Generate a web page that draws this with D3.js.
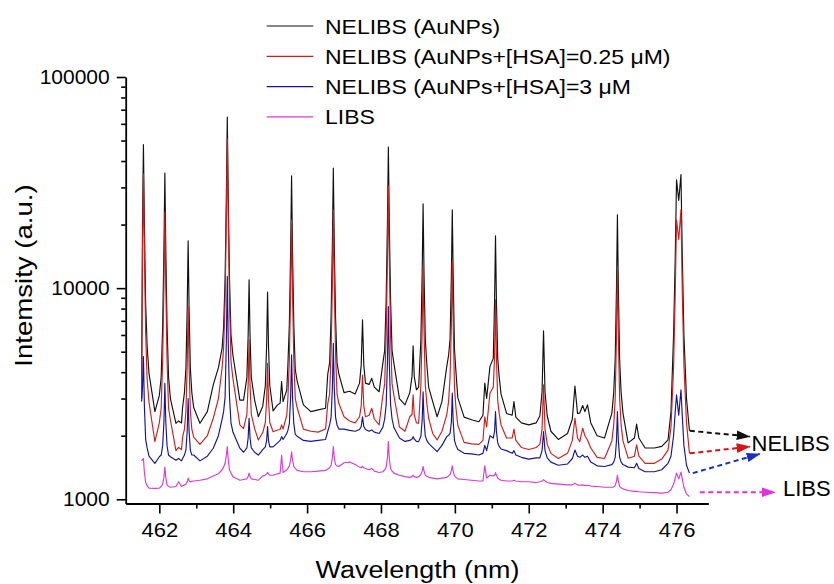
<!DOCTYPE html>
<html>
<head>
<meta charset="utf-8">
<script src="https://cdn.jsdelivr.net/npm/d3@7"></script>
<style>
  html, body { margin: 0; padding: 0; background: #ffffff; }
  svg { display: block; }
</style>
</head>
<body>
<svg id="chart" width="834" height="584"></svg>
<script>
// ---------------- DATA ----------------
const wavelength = [
461.52,461.545,461.57,461.595,461.63,461.67,461.72,461.88,
462.00,462.05,462.09,462.125,462.15,462.175,462.21,462.25,462.30,
462.45,462.52,462.60,
462.63,462.68,462.72,462.755,462.78,462.805,462.84,462.88,462.93,
463.10,463.30,463.46,463.60,463.70,
463.74,463.78,463.815,463.84,463.865,463.90,463.94,463.99,
464.18,
464.28,464.37,464.405,464.43,464.455,464.49,464.58,
464.68,
464.80,464.87,464.905,464.93,464.955,464.99,465.08,
465.20,465.27,465.31,465.35,
465.45,465.48,465.52,465.555,465.58,465.605,465.64,465.68,465.73,
465.90,466.10,466.30,466.50,
466.56,466.61,466.65,466.685,466.71,466.735,466.77,466.81,466.86,
467.00,467.15,467.30,
467.42,467.465,467.50,467.535,467.58,
467.68,467.75,467.82,467.95,
468.05,468.10,468.14,468.175,468.20,468.225,468.26,468.30,468.35,
468.50,468.65,
468.78,468.84,468.87,468.90,468.96,
469.02,
469.08,469.115,469.14,469.165,469.20,469.24,469.29,
469.40,469.52,469.65,469.78,
469.83,469.87,469.905,469.93,469.955,469.99,470.03,470.08,
470.25,470.45,470.65,470.76,470.81,470.86,470.95,
471.04,471.075,471.10,471.125,471.16,471.20,471.25,
471.40,471.55,471.60,471.65,471.80,472.00,472.20,
472.30,472.36,472.40,472.44,472.50,
472.60,472.80,473.05,
473.18,473.25,473.32,473.38,473.46,473.52,473.59,473.68,473.85,474.05,
474.25,474.30,474.34,474.375,474.40,474.425,474.46,474.50,474.55,
474.69,474.86,474.92,474.98,475.15,475.40,475.60,475.77,
475.85,475.92,475.965,476.00,476.06,476.12,476.155,476.20,476.27,476.35
];

const nelibsAuNPs = [
3000,20700,47800,20700,8480,5300,3960,2600,
3100,3780,6560,15420,35100,15420,6560,3780,3000,
2290,2350,2300,
2720,3200,4170,8070,16750,8070,4170,3200,2720,
2290,2600,3480,4200,5200,
6500,11000,27640,64600,27640,11000,6000,4850,
2950,
2950,3770,6000,10950,6000,3770,2950,
2460,
2760,3460,5360,9570,5360,3460,2620,
2800,2850,3610,2900,
3300,4300,6770,15220,34000,15220,6770,4110,3640,
2800,2600,2650,2700,
3920,4430,7330,16540,37000,16540,7330,4430,3920,
3200,3250,3150,
3550,4330,7070,4330,3550,
3500,3740,3400,3230,
4400,5060,8760,20500,46600,20500,8760,5060,4400,
3000,2800,
3200,3820,5330,3820,3300,
3400,
5700,11720,25100,11720,5700,4400,3400,
2900,2460,2900,4250,
4800,5730,11400,23500,11400,5130,4000,3030,
2450,2380,2330,2500,3550,3000,4260,
4650,8700,17700,8700,4650,3800,3150,
2550,2500,2900,2450,2300,2250,2300,
2480,3220,6280,3220,2480,
2100,1920,2050,
2400,3440,2550,2560,2780,2600,2800,2300,2000,1950,
2560,3200,4590,10070,22250,10070,4590,3200,2560,
1850,1950,2270,1950,1750,1750,1780,1910,
2600,6000,14000,32600,26000,34500,14500,6000,3000,2110
];

const nelibsHSA025 = [
3000,15060,34800,15060,6180,3710,2890,1875,
2300,2700,4500,10240,23000,10240,4500,2700,2380,
1700,1760,1720,
1970,2150,2610,4340,8180,4340,2610,2150,1970,
1820,2000,2420,3000,4200,
5200,8620,21740,50900,21740,8620,4500,3760,
2250,
2160,2525,3510,5700,3510,2525,2160,
1910,
2070,2310,2960,4400,2960,2310,2090,
2130,2140,2250,2150,
2500,3000,4610,9720,21080,9720,4610,3000,2720,
2150,2100,2080,2150,
2840,3160,4970,10720,23500,10720,4970,3160,2840,
2460,2350,2300,
2460,2770,3880,2770,2460,
2500,2700,2400,2250,
3100,3520,5920,13550,30500,13550,5920,3520,3100,
2200,2100,
2460,2520,3120,2520,2300,
2290,
3470,6320,12650,6320,3470,2850,2420,
2050,1910,2100,2510,
2900,3780,6650,13370,6650,3380,2700,2240,
1860,1830,1820,1900,2460,2200,3180,
3400,4750,8810,4750,2930,2550,2250,
1950,1950,2150,1900,1760,1720,1760,
1820,2150,3480,2150,1820,
1650,1560,1650,
1900,2420,1950,1875,2170,2000,1910,1750,1580,1560,
1890,2250,3000,6000,12650,6000,3000,2250,1890,
1565,1600,1810,1600,1480,1480,1550,1710,
2200,4200,9500,21000,17000,23500,9800,4300,2300,1650
];

const nelibsHSA3 = [
2900,3400,4740,2800,1920,1750,1600,1480,
1590,1620,1790,2330,3540,2330,1790,1620,1590,
1530,1560,1520,
1560,1620,1710,2110,3000,2110,1710,1620,1620,
1520,1600,1745,2000,2400,
2600,3040,5620,11360,5620,3040,2300,2090,
1745,
1670,1750,1960,2420,1960,1750,1670,
1620,
1720,1770,1900,2210,1900,1770,1770,
1850,1900,1980,1920,
2050,2120,2280,3070,4830,3070,2280,2030,1990,
1900,1880,1900,1920,
2100,2250,2450,3390,5480,3390,2450,2250,2150,
2150,2120,2100,
2140,2210,2460,2210,2140,
2100,2130,2080,2050,
2190,2400,2800,4470,8180,4470,2800,2400,2190,
1950,1880,
1900,1930,1980,1930,1880,
1875,
1990,2370,3230,2370,1990,1900,1840,
1760,1680,1800,1980,
2010,2050,2320,3180,2320,1900,1800,1720,
1650,1640,1620,1650,1800,1700,2000,
1950,2100,2600,2100,1850,1780,1730,
1700,1650,1700,1620,1580,1550,1570,
1570,1700,2090,1700,1570,
1500,1450,1470,
1560,1710,1600,1580,1620,1580,1600,1500,1440,1430,
1460,1500,1580,1900,2600,1900,1580,1500,1460,
1420,1410,1480,1400,1350,1350,1380,1480,
1600,2000,2600,3120,2500,3300,2500,1800,1450,1330
];

const libs = [
1520,1540,1560,1350,1200,1160,1130,1127,
1130,1150,1180,1270,1420,1270,1170,1150,1140,
1150,1210,1150,
1160,1170,1180,1210,1260,1230,1210,1215,1220,
1230,1250,1290,1320,1380,
1420,1480,1620,1775,1550,1380,1330,1280,
1230,
1240,1250,1280,1330,1280,1250,1240,
1230,
1290,1300,1320,1340,1320,1300,1300,
1320,1330,1620,1340,
1380,1400,1440,1540,1680,1540,1430,1400,1370,
1350,1350,1360,1370,
1390,1410,1450,1580,1775,1580,1460,1440,1430,
1490,1500,1460,
1420,1410,1430,1410,1400,
1380,1400,1360,1340,
1350,1380,1420,1580,1875,1560,1400,1360,1330,
1300,1280,
1270,1280,1300,1280,1270,
1280,
1310,1360,1430,1360,1300,1285,1270,
1260,1250,1260,1270,
1290,1310,1370,1440,1360,1290,1270,1250,
1240,1230,1220,1220,1440,1260,1300,
1290,1300,1337,1300,1260,1245,1230,
1220,1220,1230,1220,1210,1210,1200,
1210,1220,1240,1220,1200,
1190,1180,1170,
1170,1190,1170,1165,1170,1160,1165,1155,1150,1140,
1140,1145,1160,1220,1300,1220,1150,1135,1120,
1100,1090,1090,1085,1080,1075,1070,1080,
1110,1180,1260,1330,1250,1345,1250,1140,1060,1030
];

const seriesNames = [
  "NELIBS (AuNPs)",
  "NELIBS (AuNPs+[HSA]=0.25 \u03bcM)",
  "NELIBS (AuNPs+[HSA]=3 \u03bcM",
  "LIBS"
];
const seriesColors = ["#111111", "#cc1f1f", "#14149a", "#d93bd9"];

const xTickValues = [462, 464, 466, 468, 470, 472, 474, 476];
const xMinorTickValues = [463, 465, 467, 469, 471, 473, 475];
const yTickValues = [1000, 10000, 100000];
const yMinorTickValues = [2000,3000,4000,5000,6000,7000,8000,9000,
                         20000,30000,40000,50000,60000,70000,80000,90000];
const xDomain = [461.09, 476.86];
const yDomain = [955, 100000];

// annotation arrows (data coordinates: [wavelength, intensity])
const arrowFrom = [[476.36, 2110], [476.36, 1650], [476.44, 1330], [476.63, 1079]];
const arrowTo   = [[477.98, 1982], [477.98, 1775], [478.25, 1640], [478.66, 1079]];
const arrowColors = ["#111111", "#e01010", "#1530c8", "#e030e0"];
const annotationLabels = ["NELIBS", "LIBS"];
const annotationPos = [[478.03, 1694], [478.88, 1040]];

// ---------------- DRAWING ----------------
const svg = d3.select("#chart");
const FONT = "'Liberation Sans', Arial, Helvetica, sans-serif";

svg.append("rect").attr("width", 834).attr("height", 584).attr("fill", "#ffffff");

const x = d3.scaleLinear().domain(xDomain).range([125.7, 708.3]);
const y = d3.scaleLog().domain(yDomain).range([503.5, 77]);

// series lines
const series = [nelibsAuNPs, nelibsHSA025, nelibsHSA3, libs];
const line = d3.line()
  .defined((d, i) => i < wavelength.length && d != null)
  .x((d, i) => x(wavelength[i]))
  .y(d => y(d));

const linesG = svg.append("g");
series.forEach((vals, k) => {
  linesG.append("path")
    .datum(vals)
    .attr("d", line)
    .attr("fill", "none")
    .attr("stroke", seriesColors[k])
    .attr("stroke-width", 1.15)
    .attr("stroke-linejoin", "round");
});

// axes
const xAxisG = svg.append("g").attr("transform", `translate(0,${y.range()[0]})`);
xAxisG.call(d3.axisBottom(x).tickValues(xTickValues).tickFormat(d3.format("d"))
  .tickSize(10).tickPadding(9.5).tickSizeOuter(0));
const xMinorG = svg.append("g").attr("transform", `translate(0,${y.range()[0]})`);
xMinorG.call(d3.axisBottom(x).tickValues(xMinorTickValues).tickFormat("")
  .tickSize(5).tickSizeOuter(0));
xMinorG.select(".domain").remove();

const yAxisG = svg.append("g").attr("transform", `translate(${x.range()[0]},0)`);
yAxisG.call(d3.axisLeft(y).tickValues(yTickValues).tickFormat(d3.format("d"))
  .tickSize(9).tickPadding(7).tickSizeOuter(0));
const yMinorG = svg.append("g").attr("transform", `translate(${x.range()[0]},0)`);
yMinorG.call(d3.axisLeft(y).tickValues(yMinorTickValues).tickFormat("")
  .tickSize(4.5).tickSizeOuter(0));
yMinorG.select(".domain").remove();

[xAxisG, xMinorG, yAxisG, yMinorG].forEach(g => {
  g.selectAll(".domain").attr("stroke", "#000").attr("stroke-width", 1.8);
  g.selectAll(".tick line").attr("stroke", "#000").attr("stroke-width", 1.6);
});
xAxisG.selectAll(".tick text")
  .attr("font-family", FONT).attr("font-size", 20).attr("fill", "#000")
  .attr("transform", "scale(1.1,1)");
yAxisG.selectAll(".tick text")
  .attr("font-family", FONT).attr("font-size", 20).attr("fill", "#000")
  .attr("x", -16 / 1.05)
  .attr("transform", "scale(1.05,1)");

// axis titles
svg.append("text")
  .attr("transform", "translate(417.5,578) scale(1.17,1)")
  .attr("text-anchor", "middle")
  .attr("font-family", FONT).attr("font-size", 23).attr("fill", "#000")
  .text("Wavelength (nm)");
svg.append("text")
  .attr("transform", "translate(32,275.5) rotate(-90) scale(1.2,1)")
  .attr("text-anchor", "middle")
  .attr("font-family", FONT).attr("font-size", 23).attr("fill", "#000")
  .text("Intemsity (a.u.)");

// legend
const legend = svg.append("g");
seriesNames.forEach((name, k) => {
  const base = 33.5 + k * 30.3;
  legend.append("line")
    .attr("x1", 266.7).attr("x2", 313.3)
    .attr("y1", base - 7.5).attr("y2", base - 7.5)
    .attr("stroke", seriesColors[k]).attr("stroke-width", 1.2);
  legend.append("text")
    .attr("transform", `translate(325,${base}) scale(1.15,1)`)
    .attr("font-family", FONT).attr("font-size", 20).attr("fill", "#000")
    .text(name);
});

// annotation arrows
const defs = svg.append("defs");
arrowColors.forEach((c, k) => {
  defs.append("marker")
    .attr("id", "arrow" + k)
    .attr("markerUnits", "userSpaceOnUse")
    .attr("viewBox", "0 -6 14 12")
    .attr("refX", 13).attr("refY", 0)
    .attr("markerWidth", 14).attr("markerHeight", 12)
    .attr("orient", "auto")
    .append("path")
    .attr("d", "M0,-4.8L14,0L0,4.8Z")
    .attr("fill", c).attr("stroke", "none");
});
arrowFrom.forEach((p, k) => {
  svg.append("line")
    .attr("x1", x(p[0])).attr("y1", y(p[1]))
    .attr("x2", x(arrowTo[k][0])).attr("y2", y(arrowTo[k][1]))
    .attr("stroke", arrowColors[k]).attr("stroke-width", 2)
    .attr("stroke-dasharray", "5,3.5")
    .attr("marker-end", `url(#arrow${k})`);
});
annotationLabels.forEach((t, k) => {
  svg.append("text")
    .attr("x", x(annotationPos[k][0])).attr("y", y(annotationPos[k][1]))
    .attr("font-family", FONT).attr("font-size", 22).attr("fill", "#000")
    .text(t);
});
</script>
</body>
</html>
